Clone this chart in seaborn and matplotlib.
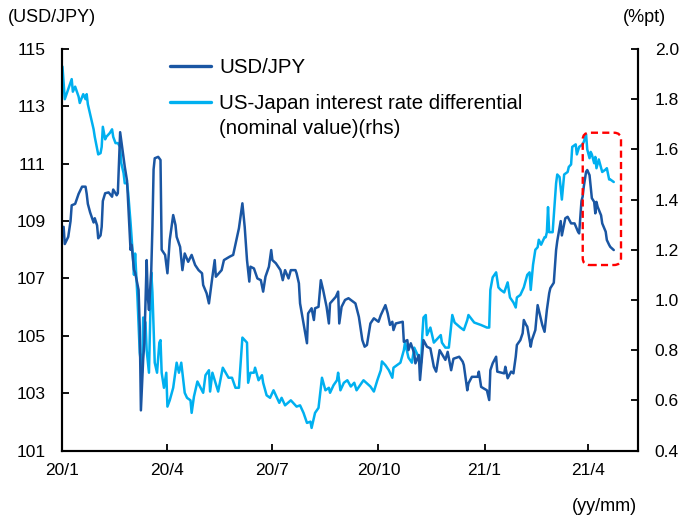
import matplotlib
matplotlib.use("Agg")
import matplotlib.pyplot as plt
from matplotlib.lines import Line2D
from matplotlib.patches import FancyBboxPatch
import pandas as pd
import seaborn as sns

# ---------------- data ----------------
usdjpy_dates = [
    "2020-01-02", "2020-01-03", "2020-01-06", "2020-01-08", "2020-01-09", "2020-01-12", "2020-01-15",
    "2020-01-18", "2020-01-21", "2020-01-22", "2020-01-23", "2020-01-25", "2020-01-28", "2020-01-29",
    "2020-01-31", "2020-02-01", "2020-02-03", "2020-02-04", "2020-02-05", "2020-02-07", "2020-02-10",
    "2020-02-13", "2020-02-14", "2020-02-17", "2020-02-18", "2020-02-20", "2020-02-21", "2020-02-23",
    "2020-02-24", "2020-02-26", "2020-02-27", "2020-02-29", "2020-03-01", "2020-03-03", "2020-03-04",
    "2020-03-07", "2020-03-08", "2020-03-09", "2020-03-11", "2020-03-12", "2020-03-14", "2020-03-15",
    "2020-03-16", "2020-03-18", "2020-03-19", "2020-03-20", "2020-03-21", "2020-03-24", "2020-03-26",
    "2020-03-27", "2020-03-30", "2020-04-01", "2020-04-03", "2020-04-06", "2020-04-08", "2020-04-09",
    "2020-04-12", "2020-04-14", "2020-04-16", "2020-04-19", "2020-04-22", "2020-04-25", "2020-04-28",
    "2020-05-01", "2020-05-02", "2020-05-05", "2020-05-07", "2020-05-10", "2020-05-12", "2020-05-13",
    "2020-05-18", "2020-05-20", "2020-05-25", "2020-05-28", "2020-06-02", "2020-06-05", "2020-06-07",
    "2020-06-09", "2020-06-11", "2020-06-12", "2020-06-15", "2020-06-18", "2020-06-21", "2020-06-23",
    "2020-06-25", "2020-06-28", "2020-06-30", "2020-07-01", "2020-07-04", "2020-07-08", "2020-07-10",
    "2020-07-12", "2020-07-15", "2020-07-17", "2020-07-21", "2020-07-22", "2020-07-24", "2020-07-25",
    "2020-07-28", "2020-07-31", "2020-08-01", "2020-08-04", "2020-08-06", "2020-08-07", "2020-08-10",
    "2020-08-12", "2020-08-14", "2020-08-17", "2020-08-19", "2020-08-20", "2020-08-25", "2020-08-27",
    "2020-08-28", "2020-08-30", "2020-09-02", "2020-09-05", "2020-09-11", "2020-09-14", "2020-09-17",
    "2020-09-19", "2020-09-21", "2020-09-24", "2020-09-27", "2020-10-01", "2020-10-03", "2020-10-07",
    "2020-10-09", "2020-10-11", "2020-10-13", "2020-10-14", "2020-10-16", "2020-10-22", "2020-10-23",
    "2020-10-26", "2020-10-27", "2020-10-29", "2020-11-01", "2020-11-02", "2020-11-05", "2020-11-06",
    "2020-11-09", "2020-11-12", "2020-11-15", "2020-11-18", "2020-11-20", "2020-11-23", "2020-11-28",
    "2020-11-30", "2020-12-03", "2020-12-05", "2020-12-10", "2020-12-13", "2020-12-14", "2020-12-17",
    "2020-12-18", "2020-12-21", "2020-12-26", "2020-12-27", "2020-12-29", "2020-12-31", "2021-01-03",
    "2021-01-05", "2021-01-06", "2021-01-08", "2021-01-11", "2021-01-12", "2021-01-18", "2021-01-19",
    "2021-01-21", "2021-01-24", "2021-01-26", "2021-01-28", "2021-01-29", "2021-02-01", "2021-02-03",
    "2021-02-04", "2021-02-06", "2021-02-07", "2021-02-10", "2021-02-11", "2021-02-14", "2021-02-16",
    "2021-02-20", "2021-02-22", "2021-02-24", "2021-02-26", "2021-02-27", "2021-03-02", "2021-03-04",
    "2021-03-05", "2021-03-08", "2021-03-09", "2021-03-12", "2021-03-14", "2021-03-17", "2021-03-20",
    "2021-03-23", "2021-03-24", "2021-03-26", "2021-03-27", "2021-03-28", "2021-03-30", "2021-03-31",
    "2021-04-02", "2021-04-03", "2021-04-04", "2021-04-06", "2021-04-07", "2021-04-08", "2021-04-09",
    "2021-04-12", "2021-04-13", "2021-04-16", "2021-04-17", "2021-04-19", "2021-04-20", "2021-04-23",
]
usdjpy_values = [
    108.8, 108.2, 108.45, 109.0, 109.55, 109.6, 109.95,
    110.2, 110.2, 109.95, 109.6, 109.3, 108.95, 109.1,
    108.85, 108.4, 108.5, 108.8, 109.7, 109.97, 110.0,
    109.85, 110.1, 109.9, 109.97, 112.1, 111.8, 111.2,
    110.9, 110.4, 109.6, 108.0, 108.17, 107.3, 107.2,
    106.6, 105.3, 102.4, 104.2, 104.74, 107.64, 106.36,
    105.9, 107.3, 108.8, 110.8, 111.19, 111.24, 111.13,
    108.0, 107.82, 107.18, 108.34, 109.21, 108.86, 108.45,
    108.1, 107.29, 107.87, 107.58, 107.82, 107.47, 107.29,
    107.18, 106.77, 106.48, 106.13, 107.06, 107.64, 107.06,
    107.29, 107.64, 107.76, 107.82, 108.75, 109.62, 108.8,
    107.64, 106.89, 107.41, 107.35, 107.0, 106.94, 106.54,
    107.06, 107.41, 107.99, 107.64, 107.53, 107.29, 106.94,
    107.29, 107.0, 107.29, 107.29, 107.18, 106.83, 106.13,
    105.43, 104.74, 105.78, 105.96, 105.55, 105.96, 106.01,
    106.94, 106.6, 106.01, 105.43, 106.13, 106.36, 106.54,
    105.43, 106.01, 106.25, 106.31, 106.13, 105.66, 104.85,
    104.62, 104.68, 105.43, 105.61, 105.49, 105.72, 106.07,
    105.78, 105.38, 105.49, 105.2, 105.43, 105.49, 104.79,
    104.85, 104.5, 104.74, 104.39, 104.04, 104.33, 103.46,
    104.85, 104.62, 104.56, 103.92, 103.75, 104.5, 104.16,
    104.44, 103.8, 104.2, 104.27, 104.1, 103.98, 103.1,
    103.34, 103.57, 103.57, 103.75, 103.22, 103.17, 103.1,
    102.76, 103.8, 104.04, 104.27, 103.75, 103.69, 103.92,
    103.52, 103.75, 103.69, 104.27, 104.68, 104.85, 105.09,
    105.55, 105.38, 105.32, 104.62, 104.85, 105.2, 106.07,
    105.38, 105.14, 105.9, 106.48, 106.66, 106.85, 107.99,
    108.3, 109.0, 108.5, 109.1, 109.15, 108.92, 108.92,
    108.63, 108.57, 109.7, 109.85, 110.2, 110.72, 110.78,
    110.6, 110.2, 109.8, 109.67, 109.27, 109.67, 109.5,
    109.2, 108.92, 108.63, 108.34, 108.17, 108.1, 107.99,
]

diff_dates = [
    "2020-01-01", "2020-01-03", "2020-01-06", "2020-01-09", "2020-01-10", "2020-01-12", "2020-01-15",
    "2020-01-16", "2020-01-19", "2020-01-21", "2020-01-22", "2020-01-23", "2020-01-26", "2020-01-28",
    "2020-01-29", "2020-02-01", "2020-02-03", "2020-02-04", "2020-02-05", "2020-02-07", "2020-02-08",
    "2020-02-11", "2020-02-13", "2020-02-14", "2020-02-16", "2020-02-18", "2020-02-20", "2020-02-21",
    "2020-02-23", "2020-02-24", "2020-02-26", "2020-02-27", "2020-02-29", "2020-03-02", "2020-03-03",
    "2020-03-04", "2020-03-06", "2020-03-08", "2020-03-10", "2020-03-11", "2020-03-13", "2020-03-14",
    "2020-03-16", "2020-03-18", "2020-03-19", "2020-03-21", "2020-03-23", "2020-03-25", "2020-03-26",
    "2020-03-27", "2020-03-29", "2020-03-31", "2020-04-01", "2020-04-03", "2020-04-06", "2020-04-09",
    "2020-04-11", "2020-04-13", "2020-04-16", "2020-04-18", "2020-04-21", "2020-04-22", "2020-04-24",
    "2020-04-27", "2020-05-02", "2020-05-04", "2020-05-07", "2020-05-08", "2020-05-10", "2020-05-15",
    "2020-05-19", "2020-05-24", "2020-05-27", "2020-05-30", "2020-06-02", "2020-06-05", "2020-06-09",
    "2020-06-10", "2020-06-12", "2020-06-15", "2020-06-16", "2020-06-19", "2020-06-22", "2020-06-23",
    "2020-06-26", "2020-06-29", "2020-07-02", "2020-07-07", "2020-07-09", "2020-07-12", "2020-07-17",
    "2020-07-22", "2020-07-25", "2020-07-28", "2020-07-31", "2020-08-03", "2020-08-04", "2020-08-07",
    "2020-08-10", "2020-08-13", "2020-08-16", "2020-08-19", "2020-08-20", "2020-08-23", "2020-08-26",
    "2020-08-27", "2020-08-29", "2020-09-01", "2020-09-04", "2020-09-07", "2020-09-10", "2020-09-12",
    "2020-09-18", "2020-09-24", "2020-09-27", "2020-09-30", "2020-10-03", "2020-10-04", "2020-10-07",
    "2020-10-10", "2020-10-13", "2020-10-14", "2020-10-20", "2020-10-23", "2020-10-24", "2020-10-27",
    "2020-10-30", "2020-11-01", "2020-11-07", "2020-11-08", "2020-11-09", "2020-11-11", "2020-11-12",
    "2020-11-15", "2020-11-18", "2020-11-24", "2020-11-25", "2020-11-28", "2020-12-01", "2020-12-04",
    "2020-12-06", "2020-12-11", "2020-12-14", "2020-12-17", "2020-12-18", "2020-12-23", "2020-12-29",
    "2021-01-03", "2021-01-05", "2021-01-06", "2021-01-08", "2021-01-11", "2021-01-13", "2021-01-15",
    "2021-01-18", "2021-01-21", "2021-01-23", "2021-01-26", "2021-01-28", "2021-01-29", "2021-02-01",
    "2021-02-04", "2021-02-07", "2021-02-09", "2021-02-10", "2021-02-12", "2021-02-14", "2021-02-16",
    "2021-02-17", "2021-02-19", "2021-02-22", "2021-02-23", "2021-02-24", "2021-02-25", "2021-02-26",
    "2021-03-01", "2021-03-04", "2021-03-05", "2021-03-07", "2021-03-09", "2021-03-11", "2021-03-14",
    "2021-03-15", "2021-03-17", "2021-03-18", "2021-03-21", "2021-03-22", "2021-03-24", "2021-03-27",
    "2021-03-28", "2021-03-30", "2021-03-31", "2021-04-02", "2021-04-03", "2021-04-04", "2021-04-06",
    "2021-04-07", "2021-04-08", "2021-04-10", "2021-04-13", "2021-04-16", "2021-04-17", "2021-04-19",
    "2021-04-20", "2021-04-23",
]
diff_values = [
    1.93, 1.80, 1.84, 1.88, 1.83, 1.85, 1.81,
    1.785, 1.82, 1.80, 1.82, 1.78, 1.72, 1.68,
    1.65, 1.58, 1.585, 1.61, 1.69, 1.64, 1.65,
    1.665, 1.68, 1.65, 1.625, 1.625, 1.61, 1.545,
    1.505, 1.465, 1.465, 1.425, 1.31, 1.18, 1.10,
    1.185, 1.01, 0.79, 0.71, 0.93, 0.91, 0.80,
    0.71, 1.11, 1.03, 0.75, 0.71, 0.83, 0.84,
    0.71, 0.65, 0.71, 0.575, 0.60, 0.65, 0.75,
    0.71, 0.75, 0.63, 0.61, 0.60, 0.55, 0.615,
    0.675, 0.63, 0.70, 0.72, 0.635, 0.71, 0.635,
    0.73, 0.69, 0.69, 0.65, 0.65, 0.85, 0.83,
    0.67, 0.71, 0.71, 0.73, 0.68, 0.70, 0.67,
    0.62, 0.61, 0.64, 0.59, 0.61, 0.58, 0.60,
    0.575, 0.58, 0.55, 0.51, 0.515, 0.49, 0.55,
    0.57, 0.69, 0.64, 0.65, 0.63, 0.66, 0.68,
    0.71, 0.64, 0.67, 0.68, 0.655, 0.67, 0.64,
    0.68, 0.655, 0.635, 0.68, 0.72, 0.755, 0.74,
    0.72, 0.69, 0.73, 0.75, 0.80, 0.83, 0.77,
    0.75, 0.81, 0.75, 0.86, 0.93, 0.94, 0.86,
    0.89, 0.83, 0.86, 0.83, 0.81, 0.81, 0.94,
    0.91, 0.89, 0.88, 0.92, 0.94, 0.91, 0.90,
    0.89, 0.89, 1.04, 1.09, 1.11, 1.05, 1.04,
    1.03, 1.07, 1.01, 0.99, 0.97, 1.01, 1.02,
    1.05, 1.10, 1.11, 1.04, 1.14, 1.20, 1.21,
    1.24, 1.22, 1.25, 1.25, 1.27, 1.37, 1.27,
    1.27, 1.465, 1.50, 1.49, 1.40, 1.50, 1.51,
    1.53, 1.54, 1.61, 1.62, 1.58, 1.61, 1.62,
    1.63, 1.66, 1.60, 1.565, 1.59, 1.58, 1.545,
    1.57, 1.525, 1.56, 1.51, 1.52, 1.525, 1.48,
    1.48, 1.47,
]

xtick_dates = ["2020-01-01", "2020-04-01", "2020-07-01", "2020-10-01", "2021-01-01", "2021-04-01"]
xtick_labels = ["20/1", "20/4", "20/7", "20/10", "21/1", "21/4"]
left_ticks = [101, 103, 105, 107, 109, 111, 113, 115]
right_ticks = [0.4, 0.6, 0.8, 1.0, 1.2, 1.4, 1.6, 1.8, 2.0]

label_usdjpy = "USD/JPY"
label_diff_line1 = "US-Japan interest rate differential"
label_diff_line2 = "(nominal value)(rhs)"

# ---------------- styling ----------------
sns.set_style("ticks")
plt.rcParams["font.family"] = ["Liberation Sans", "DejaVu Sans"]
plt.rcParams["font.size"] = 12
plt.rcParams["text.color"] = "black"
plt.rcParams["xtick.color"] = "black"
plt.rcParams["ytick.color"] = "black"
plt.rcParams["axes.labelcolor"] = "black"

DARK = "#1A56A3"
LIGHT = "#00B0F0"

df_fx = pd.DataFrame({"date": pd.to_datetime(usdjpy_dates), "value": usdjpy_values})
df_df = pd.DataFrame({"date": pd.to_datetime(diff_dates), "value": diff_values})

fig = plt.figure(figsize=(6.88, 5.17), dpi=100)
ax = fig.add_axes([0.0908, 0.1286, 0.8365, 0.7766])
ax2 = ax.twinx()

sns.lineplot(data=df_df, x="date", y="value", ax=ax2, color=LIGHT, lw=1.8, legend=False)
sns.lineplot(data=df_fx, x="date", y="value", ax=ax, color=DARK, lw=1.8, legend=False)

ax.set_zorder(ax2.get_zorder() + 1)
ax.patch.set_visible(False)

ax.set_xlim(pd.Timestamp("2020-01-01"), pd.Timestamp("2021-05-14"))
ax.set_ylim(101, 115)
ax2.set_ylim(0.4, 2.0)

ax.set_xticks(pd.to_datetime(xtick_dates))
ax.set_xticklabels(xtick_labels)
ax.set_yticks(left_ticks)
ax.set_yticklabels([str(t) for t in left_ticks])
ax2.set_yticks(right_ticks)
ax2.set_yticklabels([f"{t:.1f}" for t in right_ticks])

ax.set_xlabel("")
ax.set_ylabel("")
ax2.set_ylabel("")

for a in (ax, ax2):
    for side in ("left", "right", "bottom"):
        a.spines[side].set_linewidth(1.5)
        a.spines[side].set_color("black")
    a.spines["top"].set_visible(False)

ax.tick_params(axis="x", direction="in", length=5, width=1.3, pad=9, labelsize=12.5, colors="black")
ax.tick_params(axis="y", direction="in", length=5, width=1.3, pad=12, labelsize=12.5, colors="black")
ax2.tick_params(axis="y", direction="in", length=5, width=1.3, pad=12, labelsize=12.5, colors="black")

# legend (two blocks so the handle sits on the first line of the two-line label)
fx_handle = Line2D([], [], color=DARK, lw=2.4)
diff_handle = Line2D([], [], color=LIGHT, lw=2.4)
blank_handle = Line2D([], [], color="none", lw=0)
leg_kw = dict(frameon=False, borderpad=0, borderaxespad=0, handlelength=2.0,
              handletextpad=0.4, fontsize=14.7, labelcolor="black")
leg1 = ax.legend([fx_handle], [label_usdjpy], loc="center left",
                 bbox_to_anchor=(0.187, 0.9540), **leg_kw)
ax.add_artist(leg1)
ax.legend([diff_handle, blank_handle], [label_diff_line1, label_diff_line2],
          loc="center left", bbox_to_anchor=(0.187, 0.8330), labelspacing=0.3, **leg_kw)

# highlight box
box = FancyBboxPatch((0.904, 0.462), 0.0665, 0.3295, transform=ax.transAxes,
                     boxstyle="round,pad=0,rounding_size=0.012", mutation_aspect=575.5 / 401.5,
                     fill=False, edgecolor="#FF0000", linewidth=1.7, linestyle=(0, (3, 1.8)),
                     zorder=10, clip_on=False)
ax.add_patch(box)

# axis unit labels
fig.text(0.0116, 0.967, "(USD/JPY)", ha="left", va="center", fontsize=13)
fig.text(0.936, 0.967, "(%pt)", ha="center", va="center", fontsize=13)
fig.text(0.879, 0.021, "(yy/mm)", ha="center", va="center", fontsize=13)

fig.savefig("out.png", dpi=100)
